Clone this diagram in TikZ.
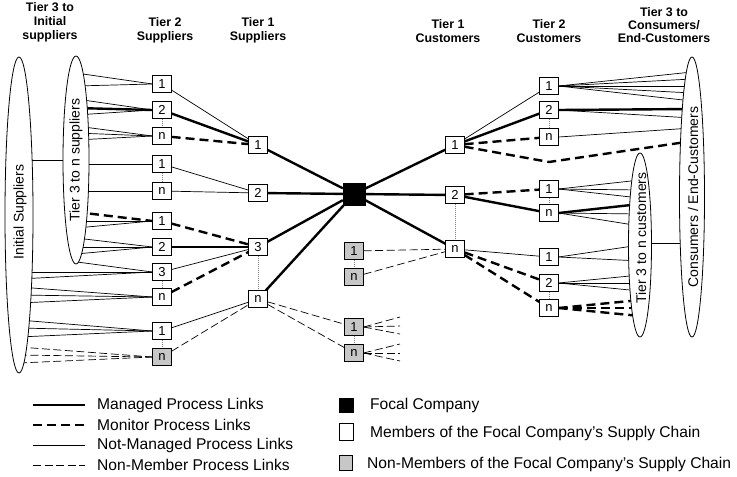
\documentclass[tikz,border=0pt]{standalone}
\usepackage{fontspec}
\setmainfont{Liberation Sans}
\usetikzlibrary{shapes.geometric,backgrounds}
\begin{document}
\begin{tikzpicture}[x=1pt,y=-1pt,
 mbox/.style={draw, fill=white, line width=0.7pt, minimum width=18.5pt, minimum height=16.5pt, inner sep=0pt, font=\fontsize{13}{13}\selectfont},
 nbox/.style={mbox, fill=black!22},
 focal/.style={draw, fill=black, minimum size=22pt, inner sep=0pt},
 ell/.style={draw, ellipse, fill=white, line width=0.8pt, inner sep=0pt},
 elltext/.style={rotate=90, font=\fontsize{14}{14}\selectfont, inner sep=0pt},
 managed/.style={line width=2.4pt},
 monitor/.style={line width=2.4pt, dash pattern=on 9pt off 5pt},
 notman/.style={line width=0.7pt},
 nonmem/.style={line width=0.7pt, dash pattern=on 8pt off 3.5pt},
 dotl/.style={line width=0.6pt, black!50, dash pattern=on 1pt off 1pt},
 head/.style={font=\bfseries\fontsize{12.4}{14}\selectfont, align=center},
 legt/.style={anchor=west, font=\fontsize{15.6}{15.6}\selectfont, inner sep=0pt},
]
\useasboundingbox (0,0) rectangle (737,477);

% ---------- headers
\node[head] (h1) at (50,22) {Tier 3 to\\Initial\\suppliers};
\node[head] (h2) at (165,30) {Tier 2\\Suppliers};
\node[head] (h3) at (258,30) {Tier 1\\Suppliers};
\node[head] (h4) at (448,31) {Tier 1\\Customers};
\node[head] (h5) at (549,31) {Tier 2\\Customers};
\node[head, font=\bfseries\fontsize{12.4}{13}\selectfont] (h6) at (664,25) {Tier 3 to\\Consumers/\\End-Customers};

% ---------- ellipses
\node[ell, minimum width=28pt, minimum height=316pt] (E1) at (19,215) {};
\node[ell, minimum width=26pt, minimum height=208pt] (E2) at (76,160) {};
\node[ell, minimum width=23pt, minimum height=184pt] (E3) at (640,245) {};
\node[ell, minimum width=25pt, minimum height=280pt] (E4) at (692,197) {};
\node[elltext] (t1) at (20,212) {Initial Suppliers};
\node[elltext] (t2) at (76,160) {Tier 3 to n suppliers};
\node[elltext] (t3) at (641,238) {Tier 3 to n customers};
\node[elltext] (t4) at (693,197) {Consumers / End-Customers};

% ---------- tier 2 suppliers
\node[mbox] (s2a) at (162,84) {1};
\node[mbox] (s2b) at (162,110) {2};
\node[mbox] (s2c) at (162,136) {n};
\node[mbox] (s2d) at (162,164) {1};
\node[mbox] (s2e) at (162,191) {n};
\node[mbox] (s2f) at (162,221) {1};
\node[mbox] (s2g) at (162,247) {2};
\node[mbox] (s2h) at (162,272) {3};
\node[mbox] (s2i) at (162,297) {n};
\node[mbox] (s2j) at (162,331) {1};
\node[nbox] (s2k) at (162,357) {n};

% ---------- tier 1 suppliers
\node[mbox] (s1a) at (258,145) {1};
\node[mbox] (s1b) at (258,193) {2};
\node[mbox] (s1c) at (258,247) {3};
\node[mbox] (s1d) at (258,299) {n};

% ---------- focal and non-members
\node[focal] (F) at (354,194) {};
\node[nbox] (g1) at (354,251) {1};
\node[nbox] (g2) at (354,277) {n};
\node[nbox] (g3) at (354,327) {1};
\node[nbox] (g4) at (354,353) {n};

% ---------- tier 1 customers
\node[mbox] (c1a) at (455,145) {1};
\node[mbox] (c1b) at (455,195) {2};
\node[mbox] (c1c) at (455,249) {n};

% ---------- tier 2 customers
\node[mbox] (c2a) at (549,86) {1};
\node[mbox] (c2b) at (549,110) {2};
\node[mbox] (c2c) at (549,137) {n};
\node[mbox] (c2d) at (549,189) {1};
\node[mbox] (c2e) at (549,213) {n};
\node[mbox] (c2f) at (549,257) {1};
\node[mbox] (c2g) at (549,283) {2};
\node[mbox] (c2h) at (549,308) {n};

\begin{scope}[on background layer]
% left inner ellipse fans
\foreach \yy/\t in {73/s2a,86/s2a,99/s2b,115/s2b,126/s2c,133/s2c,140/s2c,164/s2d,191/s2e,221/s2f,228/s2f,238/s2g,247/s2g,254/s2g}
  {\coordinate (Li\yy) at (76,\yy); \draw[notman] (Li\yy) -- (\t.west);}
\coordinate (Li108) at (76,108); \draw[managed] (Li108) -- (s2b.west);
\coordinate (Li212) at (76,212); \draw[monitor] (Li212) -- (s2f.west);
\coordinate (Li262) at (77,262); \draw[notman] (Li262) -- (s2h.west);
% left outer ellipse fans
\foreach \yy/\t in {272/s2h,279/s2h,287/s2i,295/s2i,303/s2i,320/s2j,328/s2j,337/s2j}
  {\coordinate (Lo\yy) at (19,\yy); \draw[notman] (Lo\yy) -- (\t.west);}
\foreach \yy in {347,355,363}
  {\coordinate (Lo\yy) at (19,\yy); \draw[nonmem] (Lo\yy) -- (s2k.west);}
\coordinate (Lc1) at (19,160); \coordinate (Lc2) at (76,160);
\draw[notman] (Lc1) -- (Lc2);

% tier 2 -> tier 1 suppliers
\draw[notman] (s2a) -- (s1a);
\draw[managed] (s2b) -- (s1a);
\draw[monitor] (s2c) -- (s1a);
\draw[notman] (s2d) -- (s1b);
\draw[notman] (s2e) -- (s1b);
\draw[monitor] (s2f) -- (s1c);
\draw[managed] (s2g) -- (s1c);
\draw[notman] (s2h) -- (s1c);
\draw[monitor] (s2i) -- (s1c);
\draw[notman] (s2j) -- (s1d);
\draw[nonmem] (s2k) -- (s1d);

% tier 1 <-> focal
\foreach \n in {s1a,s1b,s1c,s1d} \draw[managed] (\n) -- (F);
\foreach \n in {c1a,c1b,c1c} \draw[managed] (F) -- (\n);

% non-member links
\draw[nonmem] (g1) -- (c1c);
\draw[nonmem] (g2) -- (c1c);
\draw[nonmem] (s1d) -- (g3);
\draw[nonmem] (s1d) -- (g4);
\foreach \yy/\t in {317/g3,326/g3,334/g3,344/g4,353/g4,361/g4}
  {\coordinate (St\yy) at (400,\yy); \draw[nonmem] (\t.east) -- (St\yy);}

% tier 1 -> tier 2 customers
\draw[notman] (c1a) -- (c2a);
\draw[managed] (c1a) -- (c2b);
\draw[monitor] (c1a) -- (c2c);
\coordinate (kink) at (549,162); \coordinate (Ro142) at (686,142);
\draw[monitor] (c1a) -- (kink) -- (Ro142);
\draw[monitor] (c1b) -- (c2d);
\draw[managed] (c1b) -- (c2e);
\draw[notman] (c1c) -- (c2f);
\draw[monitor] (c1c) -- (c2g);
\draw[monitor] (c1c) -- (c2h);

% right fans
\foreach \yy in {72,79,86,93,101}
  {\coordinate (Ro\yy) at (692,\yy); \draw[notman] (c2a.east) -- (Ro\yy);}
\coordinate (Ro109) at (692,109); \draw[managed] (c2b.east) -- (Ro109);
\coordinate (Ro118) at (692,118); \draw[notman] (c2b.east) -- (Ro118);
\coordinate (Ro128) at (692,128); \draw[notman] (c2c.east) -- (Ro128);
\foreach \yy/\t in {180/c2d,190/c2d,198/c2d,214/c2e,226/c2e,245/c2f,261/c2f,275/c2g,283/c2g,291/c2g}
  {\coordinate (Ri\yy) at (640,\yy); \draw[notman] (\t.east) -- (Ri\yy);}
\coordinate (Ri204) at (640,204); \draw[managed] (c2e.east) -- (Ri204);
\foreach \yy in {300,308,316}
  {\coordinate (Ri\yy) at (640,\yy); \draw[monitor] (c2h.east) -- (Ri\yy);}
\coordinate (Rc1) at (640,243); \coordinate (Rc2) at (692,243);
\draw[notman] (Rc1) -- (Rc2);

% dotted series links
\foreach \a/\b in {s2b/s2c,s2d/s2e,s2h/s2i,s2j/s2k,s1c/s1d,g1/g2,g3/g4,c1b/c1c,c2b/c2c,c2d/c2e,c2g/c2h}
  \draw[dotl] (\a) -- (\b);
\end{scope}

% ---------- legend
\coordinate (la1) at (33,405); \coordinate (lb1) at (85,405);
\coordinate (la2) at (33,425); \coordinate (lb2) at (85,425);
\coordinate (la3) at (33,445); \coordinate (lb3) at (85,445);
\coordinate (la4) at (33,465); \coordinate (lb4) at (85,465);
\draw[managed] (la1) -- (lb1);
\draw[monitor] (la2) -- (lb2);
\draw[notman] (la3) -- (lb3);
\draw[nonmem] (la4) -- (lb4);
\node[legt] (l1) at (97,405) {Managed Process Links};
\node[legt] (l2) at (97,425) {Monitor Process Links};
\node[legt] (l3) at (97,445) {Not-Managed Process Links};
\node[legt] (l4) at (97,465) {Non-Member Process Links};

\node[focal, minimum size=14pt] (k1) at (346,405) {};
\node[mbox, minimum width=14pt, minimum height=17pt] (k2) at (346,432) {};
\node[nbox, minimum width=13pt, minimum height=15pt] (k3) at (346,463) {};
\node[legt] (m1) at (370,405) {Focal Company};
\node[legt] (m2) at (370,433) {Members of the Focal Company's Supply Chain};
\node[legt] (m3) at (367,464) {Non-Members of the Focal Company's Supply Chain};
\end{tikzpicture}
\end{document}
